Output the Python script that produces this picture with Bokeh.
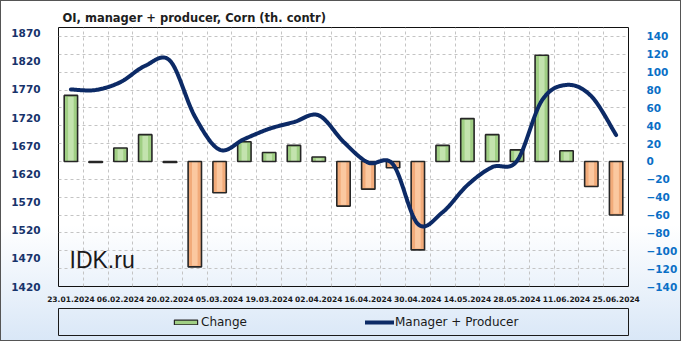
import numpy as np
from bokeh.plotting import figure
from bokeh.layouts import column
from bokeh.models import (Range1d, LinearAxis, FixedTicker, Grid, Legend,
                          LegendItem, Label, ColumnDataSource)
from bokeh.embed import file_html
from bokeh.resources import INLINE

# ---------------- data ----------------
dates = ["23.01.2024", "30.01.2024", "06.02.2024", "13.02.2024", "20.02.2024",
         "27.02.2024", "05.03.2024", "12.03.2024", "19.03.2024", "26.03.2024",
         "02.04.2024", "09.04.2024", "16.04.2024", "23.04.2024", "30.04.2024",
         "07.05.2024", "14.05.2024", "21.05.2024", "28.05.2024", "04.06.2024",
         "11.06.2024", "18.06.2024", "25.06.2024"]
change = [74, -1, 15, 30, -1, -118, -35, 22, 10, 18, 5, -50,
          -31, -7, -99, 18, 48, 30, 13, 119, 12, -28, -60]
manager_producer = [1770, 1769, 1783, 1812, 1821, 1722, 1663, 1682, 1700, 1712,
                    1724, 1677, 1640, 1637, 1531, 1552, 1600, 1632, 1643, 1750,
                    1778, 1758, 1689]
left_ticks = list(range(1420, 1871, 50))
right_ticks = list(range(-140, 141, 20))

GREEN, ORANGE = "#a0cf84", "#f2ab7a"
NAVY = "#0c2a66"
EDGE = "#262626"

# ---------------- helpers ----------------
def smooth(xs, ys, n=24):
    """Catmull-Rom rendering of the series (curve passes through every point)."""
    pts = np.column_stack([xs, ys]).astype(float)
    out = []
    m = len(pts)
    for i in range(m - 1):
        p0 = pts[i - 1] if i > 0 else pts[i]
        p1 = pts[i]
        p2 = pts[i + 1]
        p3 = pts[i + 2] if i + 2 < m else pts[i + 1]
        for t in np.linspace(0, 1, n, endpoint=False):
            t2, t3 = t * t, t * t * t
            pt = 0.5 * ((2 * p1) + (-p0 + p2) * t +
                        (2 * p0 - 5 * p1 + 4 * p2 - p3) * t2 +
                        (-p0 + 3 * p1 - 3 * p2 + p3) * t3)
            out.append(pt)
    out.append(pts[-1])
    out = np.array(out)
    return out[:, 0], out[:, 1]

x = np.arange(len(dates)) + 0.5
chg = np.array(change, dtype=float)
fill = [GREEN if v > 0 else ORANGE for v in change]
hl = ["#c3e3ae" if v > 0 else "#fbc8a0" for v in change]
inset = np.where(np.abs(chg) > 4, 1.6, 0.0) * np.sign(chg)
src = ColumnDataSource(dict(x=x, top=chg, fill=fill, hl=hl,
                            hl_top=chg - inset,
                            hl_alpha=np.where(np.abs(chg) > 4, 1.0, 0.0)))

# ---------------- main figure ----------------
p = figure(width=681, height=304, output_backend="svg", toolbar_location=None,
           x_range=Range1d(0, len(dates)), y_range=Range1d(1420, 1880),
           min_border_left=58, min_border_right=53, min_border_top=27,
           min_border_bottom=15)
p.extra_y_ranges = {"right": Range1d(-140, 150)}
p.border_fill_color = None
p.background_fill_color = None
p.outline_line_color = "#111111"
p.outline_line_width = 1

p.title.text = "OI,  manager + producer, Corn (th. contr)"
p.title.text_font = "DejaVu Sans"
p.title.text_font_style = "bold"
p.title.text_font_size = "11.5px"
p.title.text_color = "#1e1e1e"
p.title.align = "left"
p.title.offset = 4
p.title.standoff = 6

ax = p.xaxis[0]
ax.ticker = FixedTicker(ticks=list(x[::2]))
ax.major_label_overrides = {float(x[i]): dates[i] for i in range(0, len(dates), 2)}
ax.major_label_text_font = "DejaVu Sans"
ax.major_label_text_font_style = "bold"
ax.major_label_text_font_size = "7.5px"
ax.major_label_text_color = "#1a1a1a"
ax.major_label_standoff = 3
ax.axis_line_color = None
ax.major_tick_line_color = None
ax.minor_tick_line_color = None

ay = p.yaxis[0]
ay.ticker = FixedTicker(ticks=left_ticks)
ay.major_label_text_font = "DejaVu Sans"
ay.major_label_text_font_style = "bold"
ay.major_label_text_font_size = "10.5px"
ay.major_label_text_color = "#17336b"
ay.major_label_standoff = 12
ay.axis_line_color = None
ay.major_tick_line_color = None
ay.minor_tick_line_color = None

ar = LinearAxis(y_range_name="right", ticker=FixedTicker(ticks=right_ticks))
ar.major_label_text_font = "DejaVu Sans"
ar.major_label_text_font_style = "bold"
ar.major_label_text_font_size = "10.5px"
ar.major_label_text_color = "#0a6fc6"
ar.major_label_standoff = 12
ar.axis_line_color = None
ar.major_tick_line_color = None
ar.minor_tick_line_color = None
p.add_layout(ar, "right")

p.xgrid.ticker = FixedTicker(ticks=list(range(len(dates) + 1)))
p.xgrid.grid_line_color = "#c4c4c4"
p.xgrid.grid_line_dash = "3 3"
p.ygrid.visible = False
p.add_layout(Grid(dimension=1, y_range_name="right",
                  ticker=FixedTicker(ticks=right_ticks),
                  grid_line_color="#c4c4c4", grid_line_dash="3 3"))

bw = 0.54
p.vbar(x="x", top="top", bottom=0, width=bw, fill_color="fill",
       line_color=None, source=src, y_range_name="right")
p.vbar(x="x", top="hl_top", bottom=0, width=bw * 0.42, fill_color="hl",
       fill_alpha="hl_alpha", line_color=None, source=src, y_range_name="right")
p.vbar(x="x", top="top", bottom=0, width=bw, fill_color=None,
       line_color=EDGE, line_width=1.6, source=src, y_range_name="right")

sx, sy = smooth(x, manager_producer)
p.line(sx, sy, line_color=NAVY, line_width=4, line_cap="round", line_join="round")

p.add_layout(Label(x=11, y=14, x_units="screen", y_units="screen", text="IDK.ru",
                   text_font="Liberation Sans", text_font_size="23px",
                   text_color="#1a1a1a"))

# ---------------- legend strip (its frame outline is the legend box) ----------------
lg = figure(width=681, height=37, output_backend="svg", toolbar_location=None,
            x_range=Range1d(0, len(dates)), y_range=Range1d(1420, 1880),
            x_axis_location=None, y_axis_location=None,
            min_border_left=58, min_border_right=53, min_border_top=4,
            min_border_bottom=6)
lg.border_fill_color = None
lg.background_fill_color = None
lg.outline_line_color = "#1a1a1a"
lg.outline_line_width = 1
lg.grid.visible = False

# hidden renderers (same data), only used to draw the legend swatches
chg_r = lg.vbar(x=x, top=chg, bottom=0, width=bw, fill_color=GREEN,
                line_color=EDGE, line_width=1.2, visible=False)
mp_r = lg.line(x, manager_producer, line_color=NAVY, line_width=4,
               line_cap="round", visible=False)

legend = Legend(items=[LegendItem(label="Change", renderers=[chg_r]),
                       LegendItem(label="Manager + Producer", renderers=[mp_r])],
                orientation="horizontal", location=(113, 6), padding=4,
                glyph_width=29, glyph_height=6, label_height=6, label_standoff=1,
                spacing=118, margin=0, border_line_color=None,
                background_fill_alpha=0, inactive_fill_alpha=0,
                label_text_font="DejaVu Sans",
                label_text_font_size="12px", label_text_color="#1a1a1a")
lg.add_layout(legend)

page = column(p, lg, spacing=0,
              styles={"background": "linear-gradient(to bottom, #ffffff 0%, #ffffff 66%, #d9e7f7 100%)",
                      "box-shadow": "inset 0 0 0 1px #555555"})

open("out.html", "w").write(file_html(page, INLINE))
